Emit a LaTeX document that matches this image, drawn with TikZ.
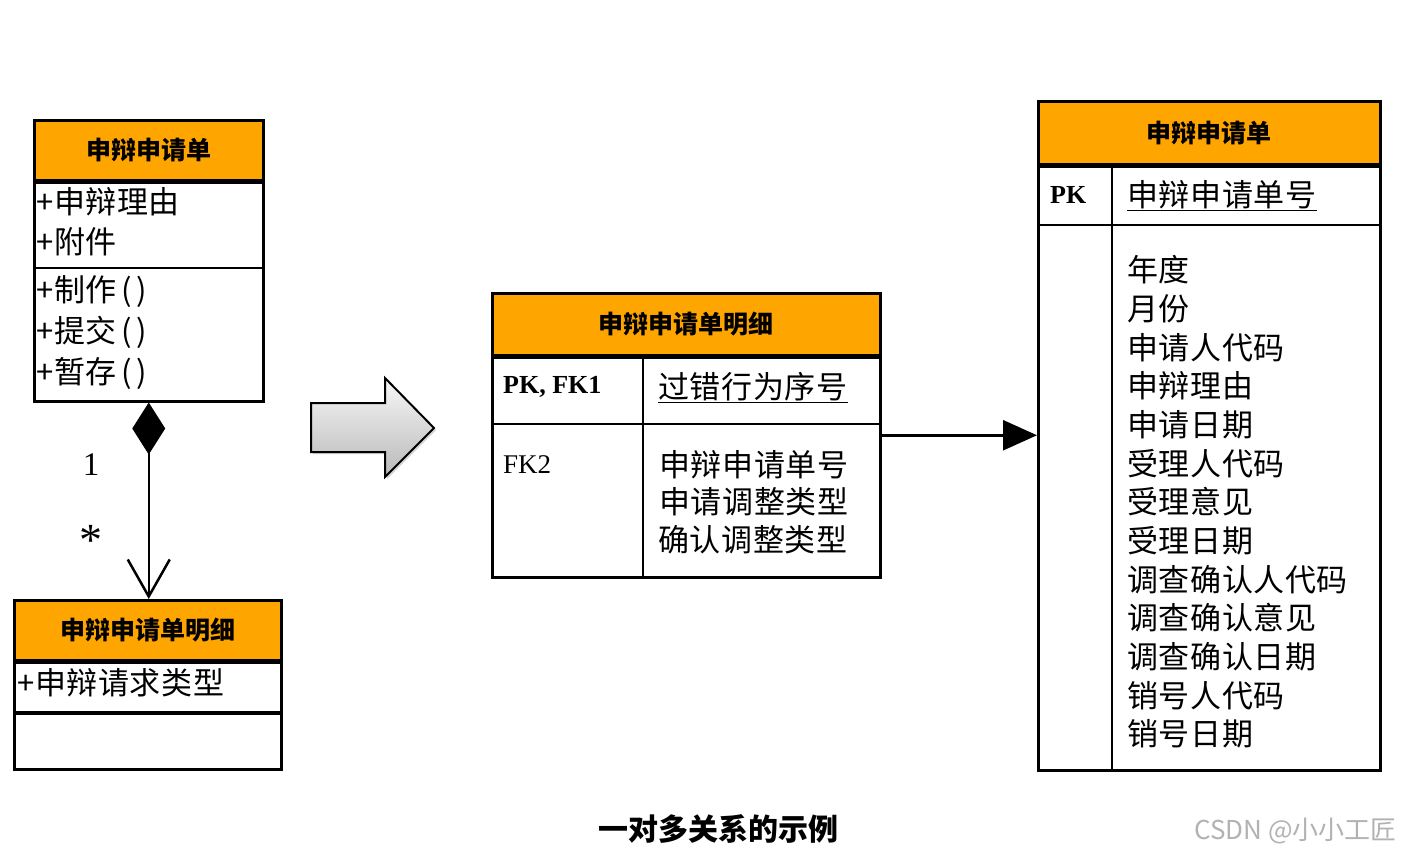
\documentclass[tikz,border=0pt]{standalone}
\usepackage{fontspec}
\setmainfont{Liberation Serif}
\newfontfamily\cjk{Noto Sans CJK SC}[LetterSpace=2]
\newfontfamily\cjkh{Noto Sans CJK SC}
\usetikzlibrary{arrows.meta,shadows}
\definecolor{hdr}{RGB}{255,165,0}
\newcommand{\parpair}{\kern5pt(\kern4pt)}
\begin{document}
\begin{tikzpicture}[x=1pt,y=-1pt,
  outline/.style={draw, line width=2.5pt, inner sep=0pt, anchor=north west},
  headbox/.style={draw, fill=hdr, line width=2.5pt, inner sep=0pt, anchor=north west,
                  font=\cjkh\bfseries\fontsize{25}{30}\selectfont},
  septhick/.style={line width=4pt},
  septhin/.style={line width=2.2pt},
  body/.style={anchor=west, inner sep=0pt, font=\cjk\fontsize{31}{36}\selectfont},
  latin/.style={anchor=west, inner sep=0pt, font=\fontsize{27}{32}\selectfont},
  latinb/.style={anchor=west, inner sep=0pt, font=\bfseries\fontsize{26}{32}\selectfont},
  mult/.style={inner sep=0pt, font=\fontsize{33}{36}\selectfont},
  conn/.style={line width=2.5pt},
  uline/.style={line width=1.6pt}]
\useasboundingbox (0,0) rectangle (1401,860);

% ---------- UML class 1 ----------
\node[outline, minimum width=229pt, minimum height=281pt] (c1) at (33,119) {};
\node[headbox, minimum width=229pt, minimum height=60pt] (c1h) at (33,119) {申辩申请单};
\draw[septhick] (c1h.south west) -- (c1h.south east);
\coordinate (c1s) at (33,268);
\draw[septhin] (c1s) -- (c1s -| c1.east);
\node[body] (c1a1) at (36,202) {+申辩理由};
\node[body] (c1a2) at (36,242) {+附件};
\node[body] (c1m1) at (36,292) {+制作\parpair};
\node[body] (c1m2) at (36,332) {+提交\parpair};
\node[body] (c1m3) at (36,373) {+暂存\parpair};

% ---------- UML class 2 ----------
\node[outline, minimum width=267pt, minimum height=169pt] (c2) at (13,599) {};
\node[headbox, minimum width=267pt, minimum height=60pt] (c2h) at (13,599) {申辩申请单明细};
\draw[septhick] (c2h.south west) -- (c2h.south east);
\coordinate (c2s) at (13,713);
\draw[septhick] (c2s) -- (c2s -| c2.east);
\node[body] (c2a1) at (17,683) {+申辩请求类型};

% composition connector
\draw[conn, {Diamond[length=52pt,width=33pt]}-{Straight Barb[length=37pt,width=42pt]}]
  (c1.south) -- (c1.south |- c2.north);
\node[mult] (m1) at (91,465) {1};
\node[mult, font=\fontsize{46}{48}\selectfont] (m2) at (91,540) {*};

% ---------- block arrow ----------
\path[draw=black, line width=2pt, top color=gray!6, bottom color=gray!55,
      drop shadow={opacity=0.35, shadow xshift=2pt, shadow yshift=-2pt}]
  (311,403) -- (385,403) -- (385,378) -- (434,428) -- (385,477) -- (385,452) -- (311,452) -- cycle;

% ---------- table 2 ----------
\node[outline, minimum width=388pt, minimum height=284pt] (t2) at (491,292) {};
\node[headbox, minimum width=388pt, minimum height=62pt] (t2h) at (491,292) {申辩申请单明细};
\draw[septhick] (t2h.south west) -- (t2h.south east);
\coordinate (t2s) at (491,424);
\draw[septhin] (t2s) -- (t2s -| t2.east);
\coordinate (t2c) at (643,354);
\draw[septhin] (t2c) -- (t2c |- t2.south);
\node[latinb] (t2k1) at (503,387) {PK, FK1};
\node[body] (t2f1) at (658,387) {过错行为序号};
\draw[uline] ([yshift=-1pt]t2f1.south west) -- ([yshift=-1pt]t2f1.south east);
\node[latin] (t2k2) at (503,465) {FK2};
\node[body] (t2f2) at (659,465) {申辩申请单号};
\node[body] (t2f3) at (659,502) {申请调整类型};
\node[body] (t2f4) at (658,540) {确认调整类型};

% ---------- table 3 ----------
\node[outline, minimum width=342pt, minimum height=669pt] (t3) at (1037,100) {};
\node[headbox, minimum width=342pt, minimum height=63pt] (t3h) at (1037,100) {申辩申请单};
\draw[septhick] (t3h.south west) -- (t3h.south east);
\coordinate (t3s) at (1037,225);
\draw[septhin] (t3s) -- (t3s -| t3.east);
\coordinate (t3c) at (1112,163);
\draw[septhin] (t3c) -- (t3c |- t3.south);
\node[latinb] (t3k1) at (1050,195) {PK};
\node[body] (t3f1) at (1127,195) {申辩申请单号};
\draw[uline] ([yshift=-1pt]t3f1.south west) -- ([yshift=-1pt]t3f1.south east);
\foreach \t [count=\i from 0] in {年度,月份,申请人代码,申辩理由,申请日期,受理人代码,受理意见,受理日期,调查确认人代码,调查确认意见,调查确认日期,销号人代码,销号日期}
  \node[body] (t3r\i) at (1127,{270+38.67*\i}) {\t};

% relation arrow
\draw[conn, -{Triangle[length=34pt,width=30pt]}] (t2.east) -- (t2.east -| t3.west);

% ---------- caption & watermark ----------
\node[inner sep=0pt, font=\cjkh\bfseries\fontsize{30}{34}\selectfont] (cap) at (718,829) {一对多关系的示例};
\node[inner sep=0pt, text=gray!60, font=\cjkh\fontsize{26}{30}\selectfont, anchor=east] (wm) at (1397,831) {CSDN @小小工匠};
\end{tikzpicture}
\end{document}
